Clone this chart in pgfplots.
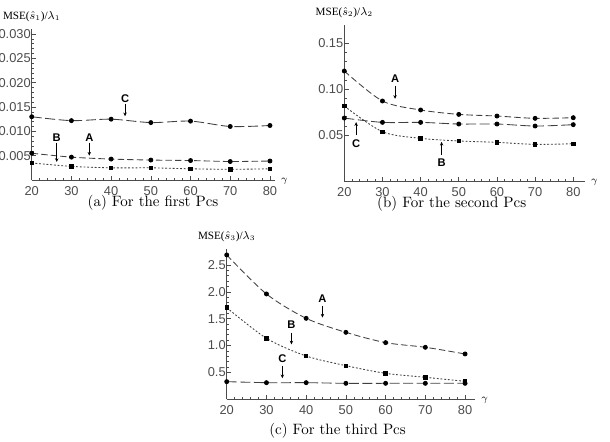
\documentclass[border=0pt]{standalone}
\usepackage{fontspec}
\setsansfont{Liberation Sans}
\newfontfamily\tms{Liberation Serif}
\usepackage{pgfplots}
\pgfplotsset{compat=1.18}
\usetikzlibrary{arrows.meta}

\pgfplotsset{
 mma/.style={
  scale only axis,
  axis x line=bottom, axis y line=left,
  axis line style={-, black!70, line width=0.5pt},
  tick align=inside,
  major tick length=3pt, minor tick length=1.6pt,
  every tick/.style={black!70, line width=0.4pt},
  xmin=20, xtick={20,30,...,80}, minor x tick num=4, minor y tick num=4,
  tick label style={font=\sffamily\fontsize{9}{10}\selectfont, text=black!70},
  /pgf/number format/assume math mode=true,
  xticklabel style={yshift=-1pt},
  yticklabel style={inner xsep=0.5pt},
  clip=false,
 },
}
\tikzset{
 lA/.style={black!75, line width=0.6pt, smooth, dash pattern=on 4.5pt off 2.2pt, mark=*, mark size=1.4pt, mark options={solid, fill=black, draw=black}},
 lB/.style={black!75, line width=0.6pt, smooth, dash pattern=on 1.3pt off 1.3pt, mark=square*, mark size=1.2pt, mark options={solid, fill=black, draw=black}},
 lC/.style={black!75, line width=0.6pt, smooth, dash pattern=on 7pt off 2.5pt, mark=*, mark size=1.4pt, mark options={solid, fill=black, draw=black}},
 lbl/.style={font=\sffamily\bfseries\fontsize{7.8}{9}\selectfont, inner sep=0pt},
 arr/.style={-{Stealth[length=2.6pt,width=2.4pt]}, line width=0.6pt},
 yl/.style={font=\tms\fontsize{7.8}{9}\selectfont, anchor=south, yshift=4pt, inner sep=1pt},
 gl/.style={anchor=west, font=\fontsize{7.5}{9}\selectfont, xshift=1pt, yshift=-1pt},
}

\begin{document}
\begin{tikzpicture}
% (a)
\begin{axis}[mma, at={(22.2pt,182.7pt)}, anchor=south west,
  width=170.1pt, height=105.6pt, xmax=81.2, ymin=0, ymax=0.031,
  ytick={0.005,0.010,...,0.030},
  yticklabel style={/pgf/number format/.cd, fixed, fixed zerofill, precision=3},
  scaled y ticks=false]
\addplot[lC] coordinates {(20,0.0130) (30,0.0122) (40,0.0125) (50,0.0118) (60,0.0121) (70,0.0110) (80,0.0112)};
\addplot[lA] coordinates {(20,0.0055) (30,0.0047) (40,0.0043) (50,0.0041) (60,0.0040) (70,0.0038) (80,0.0039)};
\addplot[lB] coordinates {(20,0.0035) (30,0.0028) (40,0.0025) (50,0.0025) (60,0.0023) (70,0.0022) (80,0.0023)};
\node[lbl] at (axis cs:43.5,0.0168) {C};
\draw[arr] (axis cs:43.5,0.0156) -- (axis cs:43.5,0.0131);
\node[lbl] at (axis cs:26.3,0.0086) {B};
\draw[arr] (axis cs:26.3,0.0077) -- (axis cs:26.3,0.0037);
\node[lbl] at (axis cs:34.5,0.0086) {A};
\draw[arr] (axis cs:34.5,0.0077) -- (axis cs:34.5,0.0050);
\node[yl] at (rel axis cs:0,1) {MSE($\hat{s}_1$)/$\lambda_1$};
\node[gl] at (rel axis cs:1,0) {$\gamma$};
\end{axis}
% (b)
\begin{axis}[mma, at={(241pt,182.1pt)}, anchor=south west,
  width=168.3pt, height=109.1pt, xmax=83, ymin=0, ymax=0.17,
  ytick={0.05,0.10,0.15},
  yticklabel style={/pgf/number format/.cd, fixed, fixed zerofill, precision=2},
  scaled y ticks=false]
\addplot[lA] coordinates {(20,0.1198) (30,0.0871) (40,0.0773) (50,0.0725) (60,0.0707) (70,0.0682) (80,0.0689)};
\addplot[lC] coordinates {(20,0.0685) (30,0.0638) (40,0.0638) (50,0.0620) (60,0.0620) (70,0.0598) (80,0.0613)};
\addplot[lB] coordinates {(20,0.0816) (30,0.0536) (40,0.0464) (50,0.0435) (60,0.0420) (70,0.0398) (80,0.0405)};
\node[lbl] at (axis cs:33.3,0.111) {A};
\draw[arr] (axis cs:33.3,0.1035) -- (axis cs:33.3,0.0895);
\node[lbl] at (axis cs:23.1,0.041) {C};
\draw[arr] (axis cs:23.1,0.0495) -- (axis cs:23.1,0.0640);
\node[lbl] at (axis cs:45.5,0.020) {B};
\draw[arr] (axis cs:45.5,0.0285) -- (axis cs:45.5,0.0425);
\node[yl] at (rel axis cs:0,1) {MSE($\hat{s}_2$)/$\lambda_2$};
\node[gl] at (rel axis cs:1,0) {$\gamma$};
\end{axis}
% (c)
\begin{axis}[mma, at={(158.7pt,29.3pt)}, anchor=south west,
  width=173.8pt, height=105.2pt, xmax=82.5, ymin=0, ymax=2.8,
  ytick={0.5,1.0,...,2.5},
  yticklabel style={/pgf/number format/.cd, fixed, fixed zerofill, precision=1}]
\addplot[lA] coordinates {(20,2.686) (30,1.96) (40,1.506) (50,1.245) (60,1.053) (70,0.966) (80,0.842)};
\addplot[lB] coordinates {(20,1.705) (30,1.134) (40,0.804) (50,0.624) (60,0.481) (70,0.407) (80,0.332)};
\addplot[lC] coordinates {(20,0.326) (30,0.307) (40,0.307) (50,0.295) (60,0.295) (70,0.295) (80,0.295)};
\node[lbl] at (axis cs:44.1,1.88) {A};
\draw[arr] (axis cs:44.1,1.74) -- (axis cs:44.1,1.52);
\node[lbl] at (axis cs:36.3,1.38) {B};
\draw[arr] (axis cs:36.3,1.24) -- (axis cs:36.3,1.02);
\node[lbl] at (axis cs:34.0,0.76) {C};
\draw[arr] (axis cs:34.0,0.62) -- (axis cs:34.0,0.39);
\node[yl] at (rel axis cs:0,1) {MSE($\hat{s}_3$)/$\lambda_3$};
\node[gl] at (rel axis cs:1,0) {$\gamma$};
\end{axis}
\node[font=\fontsize{10.5}{12}\selectfont] at (107.1pt,166.5pt) {(a) For the first Pcs};
\node[font=\fontsize{10.5}{12}\selectfont] at (316.2pt,166pt) {(b) For the second Pcs};
\node[font=\fontsize{10.5}{12}\selectfont] at (236.3pt,7.5pt) {(c) For the third Pcs};
\pgfresetboundingbox
\path[use as bounding box] (0,0) rectangle (427pt,308.7pt);
\end{tikzpicture}
\end{document}
